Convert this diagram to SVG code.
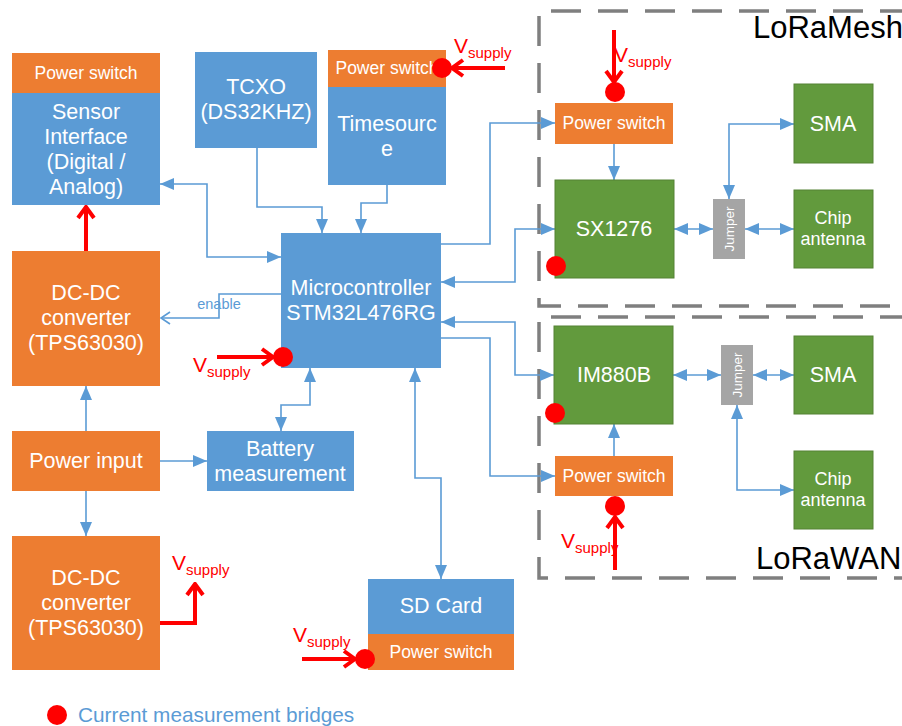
<svg xmlns="http://www.w3.org/2000/svg" width="902" height="726" viewBox="0 0 902 726">
<style>
.b{fill:#5b9bd5}
.o{fill:#ed7d31}
.g{fill:#629a3d;stroke:#548235;stroke-width:1}
.j{fill:#a5a5a5}
.t{font-family:"Liberation Sans",Arial,sans-serif;fill:#fff;text-anchor:middle}
.t20{font-size:21.5px}
.t18{font-size:18px}
.t16{font-size:17.5px}
.c{fill:none;stroke:#5b9bd5;stroke-width:1.6}
.r{fill:none;stroke:#ff0000;stroke-width:4}
.dot{fill:#ff0000}
.vs{font-family:"Liberation Sans",Arial,sans-serif;fill:#ff0000;font-size:21px}
.vs tspan{font-size:15px}
.dash{fill:none;stroke:#7f7f7f;stroke-width:3.5;stroke-dasharray:30 17}
.big{font-family:"Liberation Sans",Arial,sans-serif;font-size:31px;fill:#000}
</style>
<defs>
<marker id="a" viewBox="0 0 14 12" refX="14" refY="6" markerWidth="14" markerHeight="12" markerUnits="userSpaceOnUse" orient="auto-start-reverse">
<path d="M0,0 L14,6 L0,12 z" fill="#5b9bd5"/>
</marker>
<marker id="oa" viewBox="0 0 12 14" refX="10" refY="7" markerWidth="12" markerHeight="14" markerUnits="userSpaceOnUse" orient="auto">
<path d="M1,1 L10,7 L1,13" fill="none" stroke="#5b9bd5" stroke-width="1.6"/>
</marker>
<marker id="ra" viewBox="0 0 16 20" refX="14" refY="10" markerWidth="16" markerHeight="20" markerUnits="userSpaceOnUse" orient="auto">
<path d="M3,2 L14,10 L3,18" fill="none" stroke="#ff0000" stroke-width="4"/>
</marker>
</defs>

<g id="lora-mesh-frame">
<path class="dash" d="M910,11 H539 V306 H910"/>
<text class="big" x="753" y="38">LoRaMesh</text>
</g>
<g id="lorawan-frame">
<path class="dash" d="M910,317 H539 V578 H910"/>
<text class="big" x="756" y="569">LoRaWAN</text>
</g>

<g id="connectors">
<path class="c" d="M160,184 H207 V257 H281" marker-start="url(#a)" marker-end="url(#a)"/>
<path class="c" d="M257,148 V207 H322 V233" marker-end="url(#a)"/>
<path class="c" d="M387,185 V203 H361 V233" marker-end="url(#a)"/>
<path class="c" d="M281,294 H219 V318 H161" marker-end="url(#oa)"/>
<path class="c" d="M86,431 V386" marker-end="url(#a)"/>
<path class="c" d="M160,461 H207" marker-end="url(#a)"/>
<path class="c" d="M86,491 V536" marker-end="url(#a)"/>
<path class="c" d="M281,431 V405 H310 V368" marker-start="url(#a)" marker-end="url(#a)"/>
<path class="c" d="M415,368 V478 H441 V579" marker-start="url(#a)" marker-end="url(#a)"/>
<path class="c" d="M441,244 H490 V123 H555" marker-end="url(#a)"/>
<path class="c" d="M555,229 H515 V282 H441" marker-start="url(#a)" marker-end="url(#a)"/>
<path class="c" d="M441,322 H515 V375 H554" marker-start="url(#a)" marker-end="url(#a)"/>
<path class="c" d="M441,338 H490 V476 H555" marker-end="url(#a)"/>
<path class="c" d="M614,144 V180" marker-end="url(#a)"/>
<path class="c" d="M674,229 H713" marker-start="url(#a)" marker-end="url(#a)"/>
<path class="c" d="M745,229 H794" marker-start="url(#a)" marker-end="url(#a)"/>
<path class="c" d="M729,199 V124 H794" marker-start="url(#a)" marker-end="url(#a)"/>
<path class="c" d="M673,375 H721" marker-start="url(#a)" marker-end="url(#a)"/>
<path class="c" d="M753,375 H794" marker-start="url(#a)" marker-end="url(#a)"/>
<path class="c" d="M737,405 V490 H794" marker-start="url(#a)" marker-end="url(#a)"/>
<path class="c" d="M614,456 V424" marker-end="url(#a)"/>
<text x="219" y="309" font-family="Liberation Sans,Arial,sans-serif" font-size="14.5" fill="#5b9bd5" text-anchor="middle">enable</text>
</g>

<g id="sensor-power-switch">
<rect class="o" x="12" y="53" width="148" height="40"/>
<text class="t t16" x="86" y="79">Power switch</text>
</g>
<g id="sensor-interface">
<rect class="b" x="12" y="93" width="148" height="112"/>
<text class="t t20" x="86" y="119">Sensor</text>
<text class="t t20" x="86" y="144">Interface</text>
<text class="t t20" x="86" y="169">(Digital /</text>
<text class="t t20" x="86" y="194">Analog)</text>
</g>
<g id="tcxo">
<rect class="b" x="195" y="52" width="122" height="96"/>
<text class="t t20" x="256" y="94">TCXO</text>
<text class="t t20" x="256" y="119">(DS32KHZ)</text>
</g>
<g id="timesource-power-switch">
<rect class="o" x="328" y="50" width="118" height="37"/>
<text class="t t16" x="387" y="74">Power switch</text>
</g>
<g id="timesource">
<rect class="b" x="328" y="87" width="118" height="98"/>
<text class="t t20" x="387" y="131">Timesourc</text>
<text class="t t20" x="387" y="156">e</text>
</g>
<g id="microcontroller">
<rect class="b" x="281" y="233" width="160" height="135"/>
<text class="t t20" x="361" y="295">Microcontroller</text>
<text class="t t20" x="361" y="320">STM32L476RG</text>
</g>
<g id="dcdc1">
<rect class="o" x="12" y="251" width="148" height="135"/>
<text class="t t20" x="86" y="300">DC-DC</text>
<text class="t t20" x="86" y="325">converter</text>
<text class="t t20" x="86" y="350">(TPS63030)</text>
</g>
<g id="power-input">
<rect class="o" x="12" y="431" width="148" height="60"/>
<text class="t t20" x="86" y="468">Power input</text>
</g>
<g id="battery">
<rect class="b" x="207" y="431" width="147" height="60"/>
<text class="t t20" x="280" y="456">Battery</text>
<text class="t t20" x="280" y="481">measurement</text>
</g>
<g id="dcdc2">
<rect class="o" x="12" y="536" width="148" height="134"/>
<text class="t t20" x="86" y="585">DC-DC</text>
<text class="t t20" x="86" y="610">converter</text>
<text class="t t20" x="86" y="635">(TPS63030)</text>
</g>
<g id="sd-card">
<rect class="b" x="368" y="579" width="146" height="55"/>
<text class="t t20" x="441" y="613">SD Card</text>
</g>
<g id="sd-power-switch">
<rect class="o" x="368" y="634" width="146" height="36"/>
<text class="t t16" x="441" y="658">Power switch</text>
</g>
<g id="mesh-power-switch">
<rect class="o" x="555" y="103" width="118" height="41"/>
<text class="t t16" x="614" y="129">Power switch</text>
</g>
<g id="sx1276">
<rect class="g" x="555" y="180" width="119" height="98"/>
<text class="t t20" x="614" y="236">SX1276</text>
</g>
<g id="mesh-jumper">
<rect class="j" x="713" y="199" width="32" height="60"/>
<text class="t" font-size="13.5" transform="translate(734,229) rotate(-90)">Jumper</text>
</g>
<g id="mesh-sma">
<rect class="g" x="794" y="84" width="79" height="79"/>
<text class="t t20" x="833" y="131">SMA</text>
</g>
<g id="mesh-chip">
<rect class="g" x="794" y="190" width="79" height="78"/>
<text class="t t18" x="833" y="224">Chip</text>
<text class="t t18" x="833" y="245">antenna</text>
</g>
<g id="im880b">
<rect class="g" x="554" y="326" width="119" height="98"/>
<text class="t t20" x="614" y="382">IM880B</text>
</g>
<g id="wan-jumper">
<rect class="j" x="721" y="345" width="32" height="60"/>
<text class="t" font-size="13.5" transform="translate(742,375) rotate(-90)">Jumper</text>
</g>
<g id="wan-sma">
<rect class="g" x="794" y="336" width="79" height="78"/>
<text class="t t20" x="833" y="382">SMA</text>
</g>
<g id="wan-chip">
<rect class="g" x="794" y="451" width="79" height="78"/>
<text class="t t18" x="833" y="485">Chip</text>
<text class="t t18" x="833" y="506">antenna</text>
</g>
<g id="wan-power-switch">
<rect class="o" x="555" y="456" width="118" height="40"/>
<text class="t t16" x="614" y="482">Power switch</text>
</g>

<g id="supply-lines">
<path class="r" d="M86,251 V207" marker-end="url(#ra)"/>
<path class="r" d="M160,623 H195 V584" marker-end="url(#ra)"/>
<path class="r" d="M217,357 H273" marker-end="url(#ra)"/>
<path class="r" d="M505,68 H452" marker-end="url(#ra)"/>
<path class="r" d="M614,30 V82" marker-end="url(#ra)"/>
<path class="r" d="M615,570 V517" marker-end="url(#ra)"/>
<path class="r" d="M302,659 H355" marker-end="url(#ra)"/>
<circle class="dot" cx="283" cy="357" r="10"/>
<circle class="dot" cx="442" cy="68" r="10"/>
<circle class="dot" cx="615" cy="92" r="10"/>
<circle class="dot" cx="556" cy="266" r="10"/>
<circle class="dot" cx="555" cy="413" r="10"/>
<circle class="dot" cx="615" cy="506" r="10"/>
<circle class="dot" cx="365" cy="659" r="10"/>
<text class="vs" x="193" y="372">V<tspan dy="5">supply</tspan></text>
<text class="vs" x="454" y="53">V<tspan dy="5">supply</tspan></text>
<text class="vs" x="614" y="62">V<tspan dy="5">supply</tspan></text>
<text class="vs" x="561" y="548">V<tspan dy="5">supply</tspan></text>
<text class="vs" x="172" y="570">V<tspan dy="5">supply</tspan></text>
<text class="vs" x="293" y="642">V<tspan dy="5">supply</tspan></text>
</g>

<g id="legend">
<circle class="dot" cx="57" cy="715" r="10"/>
<text x="78" y="722" font-family="Liberation Sans,Arial,sans-serif" font-size="20.8" fill="#5b9bd5">Current measurement bridges</text>
</g>
</svg>
